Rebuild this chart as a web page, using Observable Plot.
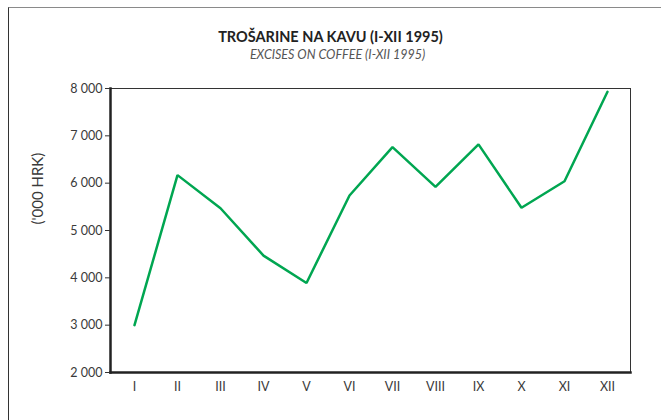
<!DOCTYPE html>
<html>
<head>
<meta charset="utf-8">
<script src="https://cdn.jsdelivr.net/npm/d3@7"></script>
<script src="https://cdn.jsdelivr.net/npm/@observablehq/plot@0.6"></script>
<style>
  html, body { margin: 0; padding: 0; background: #fff; }
  #wrap { position: relative; width: 661px; height: 420px; }
  #border { position: absolute; left: 8px; top: 7px; right: 0; bottom: 0;
            border-top: 1.5px solid #8a8a8a; border-left: 1.5px solid #333; pointer-events: none; }
</style>
</head>
<body>
<div id="wrap"><div id="border"></div></div>
<script>
const months = ["I","II","III","IV","V","VI","VII","VIII","IX","X","XI","XII"];
const excises = [3000, 6170, 5470, 4470, 3890, 5740, 6760, 5920, 6820, 5480, 6040, 7930];
const yTicks = [2000, 3000, 4000, 5000, 6000, 7000, 8000];
const titleText = "TROŠARINE NA KAVU (I-XII 1995)";
const subtitleText = "EXCISES ON COFFEE (I-XII 1995)";
const yLabel = "('000 HRK)";

const data = months.map((m, i) => ({month: m, value: excises[i]}));
const fmt = d => d3.format(",")(d).replace(/,/g, " ");
const font = "Lato, 'Open Sans', sans-serif";

const chart = Plot.plot({
  width: 661,
  height: 420,
  marginLeft: 110,
  marginRight: 31,
  marginTop: 88,
  marginBottom: 48,
  style: {fontFamily: font, fontSize: "12px", color: "#333", background: "transparent"},
  x: {type: "point", domain: months, padding: 0.5, label: null},
  y: {domain: [2000, 8000], label: null},
  marks: [
    Plot.frame({stroke: "#333", strokeWidth: 1}),
    Plot.frame({anchor: "left", stroke: "#222", strokeWidth: 2.5}),
    Plot.frame({anchor: "bottom", stroke: "#222", strokeWidth: 2.5}),
    Plot.axisY({ticks: yTicks, tickFormat: fmt, tickSize: 5, tickPadding: 3, label: null, stroke: "#333", fill: "#3a3a3a", fontSize: 12.5}),
    Plot.axisX({tickSize: 0, tickPadding: 10, label: null, fill: "#3a3a3a", fontSize: 12.5}),
    Plot.line(data, {x: "month", y: "value", stroke: "#00a651", strokeWidth: 2.5, strokeLinejoin: "miter"}),
    Plot.text([yLabel], {frameAnchor: "left", dx: -72, dy: -6, rotate: -90, fontSize: 15, fill: "#3a3a3a"}),
    Plot.text([titleText], {frameAnchor: "top-left", dx: 220, dy: -57, textAnchor: "middle", fontSize: 14.5, fontWeight: "bold", fill: "#222"}),
    Plot.text([subtitleText], {frameAnchor: "top-left", dx: 227, dy: -38, textAnchor: "middle", fontSize: 12.5, fontStyle: "italic", fill: "#555"})
  ]
});
document.getElementById("wrap").prepend(chart);
</script>
</body>
</html>
